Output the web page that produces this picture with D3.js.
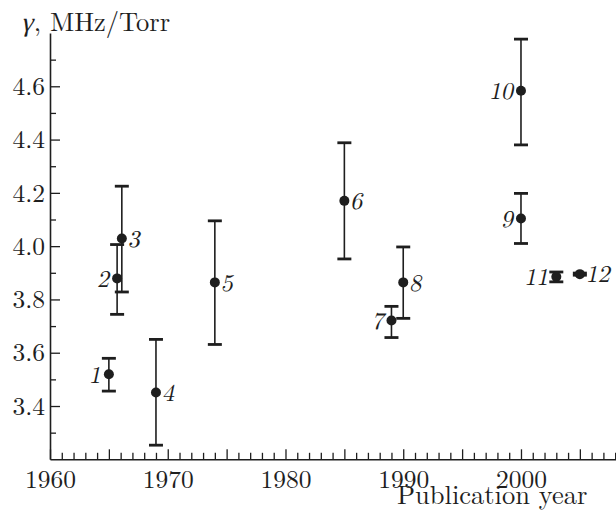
<!DOCTYPE html>
<html>
<head>
<meta charset="utf-8">
<script src="https://cdn.jsdelivr.net/npm/d3@7"></script>
<style>
  html, body { margin: 0; padding: 0; background: #fff; }
  svg { display: block; }
</style>
</head>
<body>
<svg id="chart" width="616" height="511"></svg>
<script>
// ---- data ----
const labels = ["1","2","3","4","5","6","7","8","9","10","11","12"];
const years  = [1965, 1965.7, 1966.1, 1969, 1974, 1985, 1989, 1990, 2000, 2000, 2003, 2005];
const gamma  = [3.519, 3.879, 4.029, 3.451, 3.864, 4.170, 3.721, 3.864, 4.104, 4.583, 3.885, 3.895];
const upper  = [3.579, 4.006, 4.225, 3.650, 4.095, 4.388, 3.774, 3.997, 4.198, 4.777, 3.903, 3.899];
const lower  = [3.456, 3.744, 3.828, 3.253, 3.631, 3.952, 3.657, 3.729, 4.010, 4.380, 3.866, 3.891];
const labelSide = ["left","left","right","right","right","right","left","right","left","left","left","right"];
const xMajorTicks = [1960, 1970, 1980, 1990, 2000];
const yMajorTicks = [3.4, 3.6, 3.8, 4.0, 4.2, 4.4, 4.6];
const yMinorTicks = [3.3, 3.5, 3.7, 3.9, 4.1, 4.3, 4.5, 4.7];

const ink = "#1e1e1e";
const FONT = '"Latin Modern Roman"';
const FS = 25.5;
const svg = d3.select("#chart");

const x = d3.scaleLinear().domain([1960, 2008.07]).range([50, 616]);
const y = d3.scaleLinear().domain([3.2, 4.8]).range([459.3, 33]);

// x axis: minor yearly ticks, taller five-year ticks
const yearTicks = d3.range(1961, 2009).filter(v => v % 5 !== 0);
const fiveTicks = d3.range(1965, 2009, 5).filter(v => v % 10 !== 0);
svg.append("g").attr("transform", "translate(0,459.3)")
  .call(d3.axisBottom(x).tickValues(yearTicks).tickSize(-6.5).tickFormat(""))
  .call(g => g.select(".domain").remove());
svg.append("g").attr("transform", "translate(0,459.3)")
  .call(d3.axisBottom(x).tickValues(fiveTicks).tickSize(-10).tickFormat(""))
  .call(g => g.select(".domain").remove());
svg.append("g").attr("transform", "translate(0,459.3)")
  .call(d3.axisBottom(x).tickValues(xMajorTicks).tickSize(-10).tickSizeOuter(0)
        .tickPadding(10.5).tickFormat(d3.format("d")));

// y axis
svg.append("g").attr("transform", "translate(50,0)")
  .call(d3.axisLeft(y).tickValues(yMinorTicks).tickSize(-6).tickFormat(""))
  .call(g => g.select(".domain").remove());
svg.append("g").attr("transform", "translate(50,0)")
  .call(d3.axisLeft(y).tickValues(yMajorTicks).tickSize(-10).tickSizeOuter(0)
        .tickPadding(5).tickFormat(d3.format(".1f")));

svg.selectAll(".domain").attr("stroke", ink).attr("stroke-width", 1.6);
svg.selectAll(".tick line").attr("stroke", ink).attr("stroke-width", 1.3);
svg.selectAll(".tick text").attr("fill", ink)
  .style("font-family", FONT).style("font-size", FS + "px");

// axis titles
const gam = svg.append("text")
  .attr("transform", "translate(21,31) skewX(-13)")
  .style("font-family", FONT).style("font-size", "26.5px")
  .attr("fill", ink)
  .text("γ");
const gw = gam.node().getComputedTextLength();
svg.append("text").attr("x", 21 + gw + 1).attr("y", 31)
  .style("font-family", FONT).style("font-size", "26.5px")
  .attr("fill", ink)
  .text(", MHz/Torr");
svg.append("text").attr("x", 397).attr("y", 504)
  .style("font-family", FONT).style("font-size", "26.5px")
  .attr("fill", ink)
  .text("Publication year");

// data
const data = labels.map((l, i) => ({ l, yr: years[i], g: gamma[i], hi: upper[i], lo: lower[i], side: labelSide[i] }));
const capW = 7;
const pts = svg.append("g").selectAll("g").data(data).join("g");
pts.append("line")
  .attr("x1", d => x(d.yr)).attr("x2", d => x(d.yr))
  .attr("y1", d => y(d.hi)).attr("y2", d => y(d.lo))
  .attr("stroke", ink).attr("stroke-width", 1.6);
pts.append("line")
  .attr("x1", d => x(d.yr) - capW).attr("x2", d => x(d.yr) + capW)
  .attr("y1", d => y(d.hi)).attr("y2", d => y(d.hi))
  .attr("stroke", ink).attr("stroke-width", 2.8);
pts.append("line")
  .attr("x1", d => x(d.yr) - capW).attr("x2", d => x(d.yr) + capW)
  .attr("y1", d => y(d.lo)).attr("y2", d => y(d.lo))
  .attr("stroke", ink).attr("stroke-width", 2.8);
pts.append("circle")
  .attr("cx", d => x(d.yr)).attr("cy", d => y(d.g)).attr("r", 5)
  .attr("fill", ink);
pts.append("text")
  .attr("transform", d => `translate(${x(d.yr) + (d.side === "left" ? -8 : 6)},${y(d.g) + 8.3}) skewX(-12)`)
  .attr("text-anchor", d => d.side === "left" ? "end" : "start")
  .style("font-family", FONT).style("font-size", "24px")
  .attr("fill", ink)
  .text(d => d.l);
</script>
</body>
</html>
